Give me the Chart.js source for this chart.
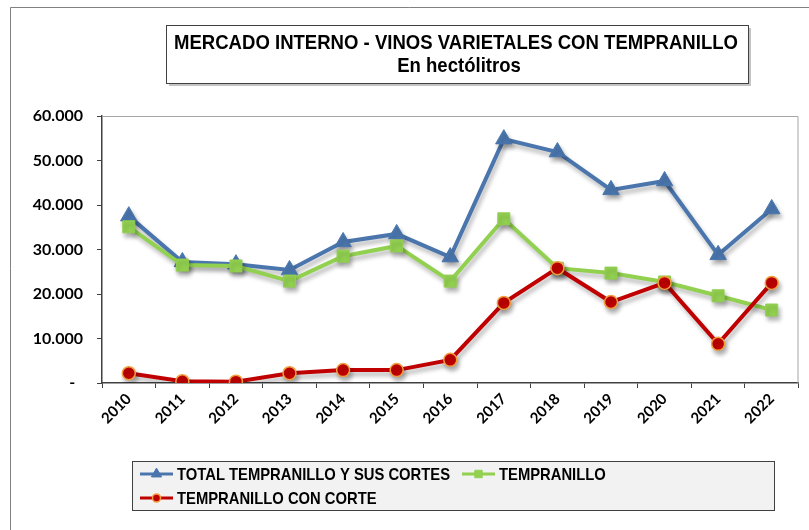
<!DOCTYPE html>
<html>
<head>
<meta charset="utf-8">
<script src="https://cdn.jsdelivr.net/npm/chart.js@4.4.1/dist/chart.umd.min.js"></script>
<style>
  html, body { margin: 0; padding: 0; background: #fff; }
  #wrap { width: 809px; height: 530px; position: relative; }
</style>
</head>
<body>
<div id="wrap"><canvas id="vinos-chart" width="809" height="530"></canvas></div>
<script>
// datos (hectolitros)
const years = ["2010","2011","2012","2013","2014","2015","2016","2017","2018","2019","2020","2021","2022"];
const totalValues = [37500, 27200, 26700, 25400, 31700, 33500, 28300, 54800, 51900, 43400, 45400, 28800, 39100];
const tempranilloValues = [35100, 26500, 26300, 22900, 28500, 30800, 22900, 36900, 25800, 24700, 22700, 19600, 16400];
const conCorteValues = [2200, 400, 300, 2200, 2900, 2900, 5200, 18000, 25800, 18200, 22500, 8800, 22500];
const yTicks = [0, 10000, 20000, 30000, 40000, 50000, 60000];

const titleLines = ["MERCADO INTERNO - VINOS VARIETALES CON TEMPRANILLO", "En hectólitros"];
const seriesNames = ["TOTAL TEMPRANILLO Y SUS CORTES", "TEMPRANILLO", "TEMPRANILLO CON CORTE"];

const sansFont = "'Liberation Sans', Arial, sans-serif";
const blue = "#4a76ad";
const green = "#92d050";
const red = "#c00000";

function fmt(v) {
    if (v === 0) return "-  ";
    return v.toString().replace(/\B(?=(\d{3})+(?!\d))/g, ".");
}

// texto "estrecho": se comprime en horizontal como Arial Narrow
function narrowText(ctx, text, x, y, size, sx, align) {
    ctx.save();
    ctx.font = "bold " + size + "px " + sansFont;
    ctx.textAlign = align;
    ctx.translate(x, y);
    ctx.scale(sx, 1);
    ctx.fillText(text, 0, 0);
    ctx.restore();
}

// marco, titulo y leyenda
const decoPlugin = {
    id: "deco",
    beforeDraw(chart) {
        const ctx = chart.ctx;
        ctx.save();
        ctx.fillStyle = "#fff";
        ctx.fillRect(0, 0, chart.width, chart.height);
        ctx.strokeStyle = "#808080";
        ctx.lineWidth = 1;
        ctx.beginPath();
        ctx.moveTo(10.5, chart.height);
        ctx.lineTo(10.5, 7.5);
        ctx.lineTo(chart.width, 7.5);
        ctx.stroke();
        ctx.restore();
    },
    afterDraw(chart) {
        const ctx = chart.ctx;
        const a = chart.chartArea;
        ctx.save();
        // borde del area de trazado
        ctx.strokeStyle = "#a6a6a6";
        ctx.lineWidth = 1;
        ctx.beginPath();
        ctx.moveTo(a.left, a.top + 0.5);
        ctx.lineTo(a.right - 0.5, a.top + 0.5);
        ctx.lineTo(a.right - 0.5, a.bottom);
        ctx.stroke();

        // caja del titulo
        ctx.fillStyle = "#c4c4c4";
        ctx.fillRect(169, 28, 582, 58);
        ctx.fillStyle = "#fff";
        ctx.fillRect(166.5, 25.5, 582, 58);
        ctx.strokeStyle = "#404040";
        ctx.strokeRect(166.5, 25.5, 582, 58);
        ctx.fillStyle = "#000";
        ctx.textBaseline = "alphabetic";
        ctx.font = "bold 21px " + sansFont;
        const sx = 564 / ctx.measureText(titleLines[0]).width;
        narrowText(ctx, titleLines[0], 456, 49, 21, sx, "center");
        narrowText(ctx, titleLines[1], 459, 72, 21, sx, "center");

        // leyenda
        ctx.fillStyle = "#f2f2f2";
        ctx.fillRect(132.5, 461.5, 642, 49);
        ctx.strokeStyle = "#404040";
        ctx.strokeRect(132.5, 461.5, 642, 49);
        ctx.font = "bold 17px " + sansFont;
        const lx = 273 / ctx.measureText(seriesNames[0]).width;
        const items = [
            {x: 140, y: 474, ds: 0},
            {x: 462, y: 474, ds: 1},
            {x: 140, y: 498, ds: 2}
        ];
        items.forEach(it => {
            const ds = chart.data.datasets[it.ds];
            ctx.strokeStyle = ds.borderColor;
            ctx.lineWidth = 3;
            ctx.beginPath();
            ctx.moveTo(it.x, it.y);
            ctx.lineTo(it.x + 33, it.y);
            ctx.stroke();
            ctx.fillStyle = ds.pointBackgroundColor;
            ctx.strokeStyle = ds.pointBorderColor;
            ctx.lineWidth = ds.pointBorderWidth;
            Chart.helpers.drawPoint(ctx, {
                pointStyle: ds.pointStyle,
                radius: ds.pointRadius * 0.62,
                borderWidth: ds.pointBorderWidth
            }, it.x + 16.5, it.y);
            ctx.fillStyle = "#000";
            ctx.textBaseline = "middle";
            narrowText(ctx, seriesNames[it.ds], it.x + 37, it.y + 1, 17, lx, "left");
        });
        ctx.restore();
    }
};

// sombra de las lineas
const shadowPlugin = {
    id: "shadow",
    beforeDatasetDraw(chart) {
        const ctx = chart.ctx;
        ctx.save();
        ctx.shadowColor = "rgba(0,0,0,0.28)";
        ctx.shadowBlur = 4;
        ctx.shadowOffsetX = 2;
        ctx.shadowOffsetY = 4;
    },
    afterDatasetDraw(chart) {
        chart.ctx.restore();
    }
};

const ctx = document.getElementById("vinos-chart").getContext("2d");
const vinosChart = new Chart(ctx, {
    type: "line",
    data: {
        labels: years,
        datasets: [{
            label: seriesNames[0],
            data: totalValues,
            borderColor: blue,
            backgroundColor: blue,
            pointBackgroundColor: blue,
            pointBorderColor: blue,
            pointStyle: "triangle",
            pointRadius: 9.5,
            pointBorderWidth: 1,
            borderWidth: 4,
            tension: 0,
            order: 3
        }, {
            label: seriesNames[1],
            data: tempranilloValues,
            borderColor: green,
            backgroundColor: green,
            pointBackgroundColor: green,
            pointBorderColor: green,
            pointStyle: "rect",
            pointRadius: 8.5,
            pointBorderWidth: 1,
            borderWidth: 4,
            tension: 0,
            order: 2
        }, {
            label: seriesNames[2],
            data: conCorteValues,
            borderColor: red,
            backgroundColor: red,
            pointBackgroundColor: red,
            pointBorderColor: "#f0a040",
            pointStyle: "circle",
            pointRadius: 6.5,
            pointBorderWidth: 1.5,
            borderWidth: 4,
            tension: 0,
            order: 1
        }]
    },
    options: {
        responsive: false,
        animation: false,
        events: [],
        layout: {
            padding: {top: 116, right: 4, left: 0, bottom: 0}
        },
        plugins: {
            legend: {display: false},
            title: {display: false},
            tooltip: {enabled: false}
        },
        scales: {
            x: {
                offset: true,
                grid: {
                    offset: true,
                    drawOnChartArea: false,
                    drawTicks: true,
                    tickLength: 5,
                    color: "#404040"
                },
                border: {color: "#404040", width: 1.5},
                ticks: {
                    autoSkip: false,
                    minRotation: 45,
                    maxRotation: 45,
                    padding: 2,
                    color: "#000",
                    font: {family: "Lato", weight: "bold", size: 15}
                },
                afterFit(scale) { scale.height = 147; }
            },
            y: {
                min: 0,
                max: 60000,
                afterBuildTicks(scale) { scale.ticks = yTicks.map(v => ({value: v})); },
                grid: {
                    drawOnChartArea: false,
                    drawTicks: true,
                    tickLength: 5,
                    color: "#404040"
                },
                border: {color: "#404040", width: 1.5},
                ticks: {
                    padding: 14,
                    color: "#000",
                    font: {family: "Lato", weight: "bold", size: 16},
                    callback: (v) => fmt(v)
                },
                afterFit(scale) { scale.width = 102; }
            }
        }
    },
    plugins: [decoPlugin, shadowPlugin]
});
</script>
</body>
</html>
